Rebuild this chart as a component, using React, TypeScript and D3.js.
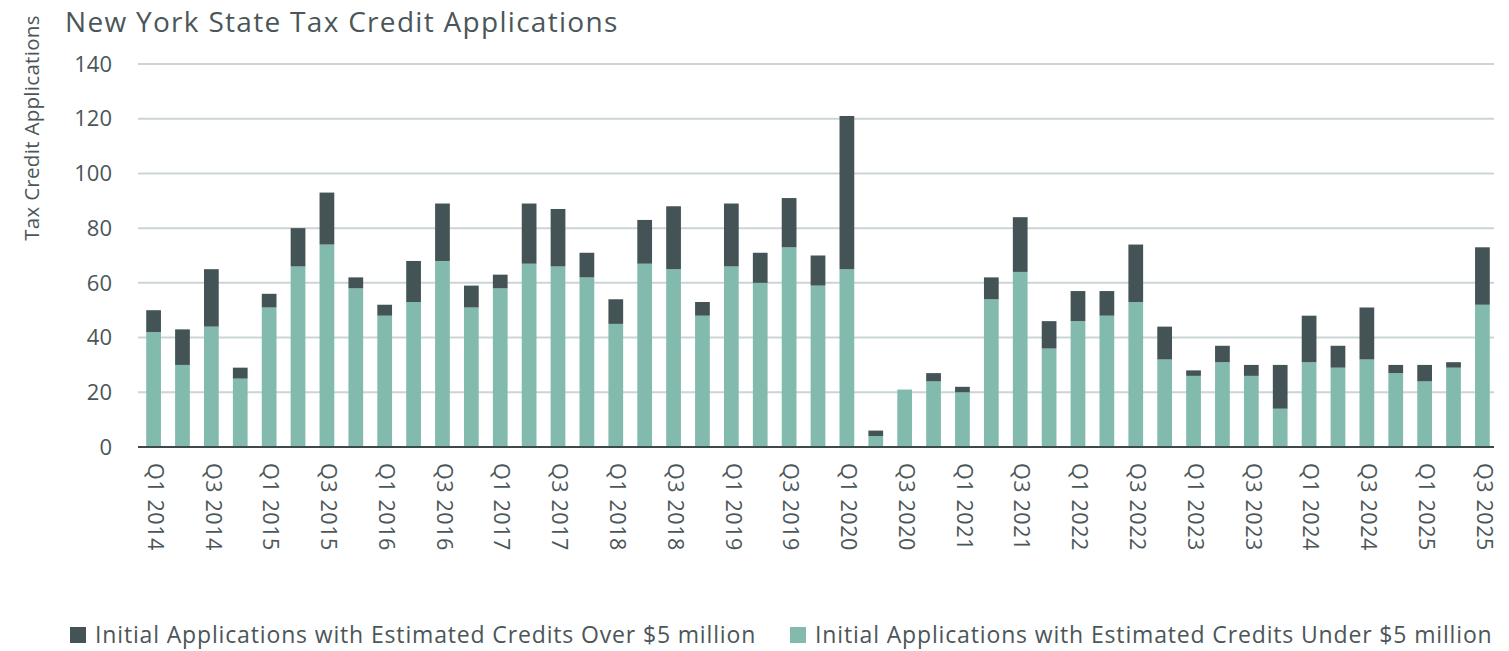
import React from 'react';
import * as d3 from 'd3';

const quarters = [
  'Q1 2014','Q2 2014','Q3 2014','Q4 2014',
  'Q1 2015','Q2 2015','Q3 2015','Q4 2015',
  'Q1 2016','Q2 2016','Q3 2016','Q4 2016',
  'Q1 2017','Q2 2017','Q3 2017','Q4 2017',
  'Q1 2018','Q2 2018','Q3 2018','Q4 2018',
  'Q1 2019','Q2 2019','Q3 2019','Q4 2019',
  'Q1 2020','Q2 2020','Q3 2020','Q4 2020',
  'Q1 2021','Q2 2021','Q3 2021','Q4 2021',
  'Q1 2022','Q2 2022','Q3 2022','Q4 2022',
  'Q1 2023','Q2 2023','Q3 2023','Q4 2023',
  'Q1 2024','Q2 2024','Q3 2024','Q4 2024',
  'Q1 2025','Q2 2025','Q3 2025',
];

// Initial Applications with Estimated Credits Under $5 million
const underValues = [
  42, 30, 44, 25,
  51, 66, 74, 58,
  48, 53, 68, 51,
  58, 67, 66, 62,
  45, 67, 65, 48,
  66, 60, 73, 59,
  65, 4, 21, 24,
  20, 54, 64, 36,
  46, 48, 53, 32,
  26, 31, 26, 14,
  31, 29, 32, 27,
  24, 29, 52,
];

// Initial Applications with Estimated Credits Over $5 million
const overValues = [
  8, 13, 21, 4,
  5, 14, 19, 4,
  4, 15, 21, 8,
  5, 22, 21, 9,
  9, 16, 23, 5,
  23, 11, 18, 11,
  56, 2, 0, 3,
  2, 8, 20, 10,
  11, 9, 21, 12,
  2, 6, 4, 16,
  17, 8, 19, 3,
  6, 2, 21,
];

const yTicks = [0, 20, 40, 60, 80, 100, 120, 140];
const seriesKeys = ['under', 'over'];
const legendLabels = [
  'Initial Applications with Estimated Credits Over $5 million',
  'Initial Applications with Estimated Credits Under $5 million',
];
const titleText = 'New York State Tax Credit Applications';
const yTitle = 'Tax Credit Applications';

const COLORS: Record<string, string> = { under: '#82bbad', over: '#435356' };
const TEXT = '#4b5659';
const FONT = '"Open Sans", "Noto Sans", sans-serif';

export default function App() {
  const W = 1509;
  const H = 651;
  const plotLeft = 138;
  const plotRight = 1494;

  const rows = quarters.map((q, i) => ({ q, under: underValues[i], over: overValues[i] }));
  const x = d3
    .scaleBand<string>()
    .domain(quarters)
    .range([139, 1497])
    .paddingInner(0.49)
    .paddingOuter(0.25);
  const y = d3.scaleLinear().domain([0, 140]).range([447, 64]);
  const stacked = d3.stack<any>().keys(seriesKeys)(rows);

  const shownLabels = quarters.filter((q) => q.startsWith('Q1') || q.startsWith('Q3'));

  return (
    <svg
      width={W}
      height={H}
      style={{ position: 'absolute', left: 0, top: 0, background: '#fff' }}
      fontFamily={FONT}
    >
      <text x={65} y={32} fontSize={28} letterSpacing={1.3} fill={TEXT}>
        {titleText}
      </text>
      <text
        transform={`translate(39, 128) rotate(-90)`}
        textAnchor="middle"
        fontSize={20.5}
        letterSpacing={0.3}
        fill={TEXT}
      >
        {yTitle}
      </text>

      {yTicks.map((t) => (
        <g key={t}>
          {t !== 0 && (
            <line x1={plotLeft} x2={plotRight} y1={y(t)} y2={y(t)} stroke="#ccd5d5" strokeWidth={2} />
          )}
          <text x={112} y={y(t)} dy="0.35em" textAnchor="end" fontSize={22} fill={TEXT}>
            {t}
          </text>
        </g>
      ))}

      {stacked.map((s) => (
        <g key={s.key} fill={COLORS[s.key]}>
          {s.map((d, i) =>
            d[1] - d[0] > 0 ? (
              <rect
                key={i}
                x={x(quarters[i])}
                width={x.bandwidth()}
                y={y(d[1])}
                height={y(d[0]) - y(d[1])}
              />
            ) : null
          )}
        </g>
      ))}

      <line x1={plotLeft} x2={plotRight} y1={y(0)} y2={y(0)} stroke="#3d4a4d" strokeWidth={2} />

      {shownLabels.map((q) => (
        <text
          key={q}
          transform={`translate(${(x(q) as number) + x.bandwidth() / 2}, 463) rotate(90)`}
          dominantBaseline="middle"
          textAnchor="start"
          fontSize={21.5}
          letterSpacing={0.6}
          fill={TEXT}
        >
          {q}
        </text>
      ))}

      <g transform="translate(0, 635)">
        <rect x={70} y={-8} width={16} height={16} fill={COLORS.over} />
        <text x={95} y={0} dy="0.35em" fontSize={23} letterSpacing={0.85} fill={TEXT}>
          {legendLabels[0]}
        </text>
        <rect x={790} y={-8} width={16} height={16} fill={COLORS.under} />
        <text x={815} y={0} dy="0.35em" fontSize={23} letterSpacing={0.85} fill={TEXT}>
          {legendLabels[1]}
        </text>
      </g>
    </svg>
  );
}
